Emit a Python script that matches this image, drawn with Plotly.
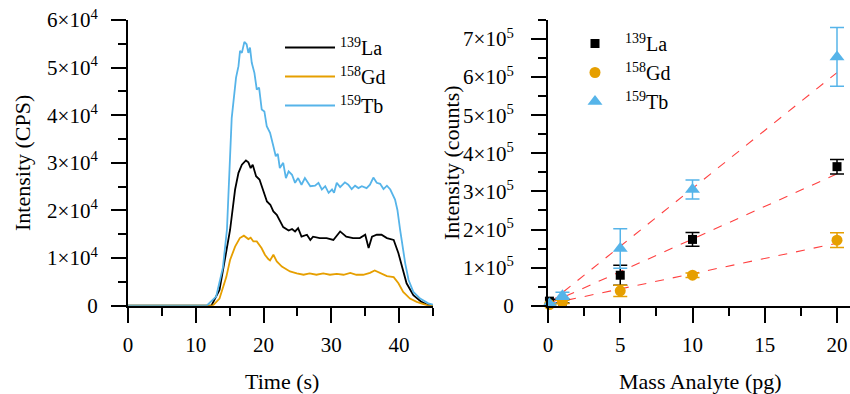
import plotly.graph_objects as go

# ---------------- Data: left panel (transient signal) ----------------
t_tb = [0, 11.6, 13.0, 14.0, 14.6, 15.06, 15.3, 15.94, 16.3, 16.53, 16.8, 17.17, 17.5, 17.76, 18.0, 18.26,
        18.65, 19.0, 19.34, 19.73, 20.12, 20.47, 20.96, 21.45, 21.8, 22.1, 22.4, 22.9, 23.3, 23.7,
        24.2, 24.65, 25.1, 25.6, 26.1, 26.9, 27.6, 28.1, 28.6, 29.1, 29.6, 30.1, 30.4, 30.8, 31.3,
        32.0, 32.5, 33.0, 33.5, 34.0, 34.5, 35.2, 35.7, 36.2, 36.7, 37.2, 37.7, 38.2, 38.7, 39.4,
        39.75, 40.15, 40.5, 40.9, 41.4, 42.1, 43.1, 44.3, 45.0]
i_tb = [0, 0, 1900, 8000, 16000, 30700, 39400, 47900, 50300, 53500, 53100, 55400, 54900, 53100, 54200, 51000,
        48900, 45400, 45800, 41200, 40800, 37700, 36300, 33500, 31400, 31900, 28900, 30000, 26800, 28200,
        27500, 25800, 26800, 25400, 26800, 25100, 25200, 25800, 24400, 25100, 23700, 24400, 23700, 25800, 24900,
        25900, 25400, 24500, 25200, 24700, 25100, 24700, 25400, 26900, 25800, 25600, 24500, 25200, 24400, 22300,
        20100, 15900, 12500, 8900, 5400, 2900, 1500, 500, 200]

t_la = [0, 12.3, 13.5, 14.5, 15.06, 15.8, 16.3, 16.8, 17.4, 17.76, 18.1, 18.4, 18.9, 19.4, 19.7, 20.0,
        20.5, 21.0, 21.45, 21.95, 22.4, 22.9, 23.7, 24.2, 24.65, 25.1, 25.6, 26.4, 26.9, 27.3, 28.3,
        29.3, 30.3, 31.3, 32.2, 33.2, 34.2, 35.0, 35.5, 36.0, 36.7, 37.4, 38.2, 39.2, 39.9, 40.4,
        41.1, 42.1, 43.3, 44.3, 45.0]
i_la = [0, 0, 3300, 11000, 15900, 24400, 27900, 29600, 30500, 30100, 28900, 29600, 27200, 26500, 25100, 23700,
        21900, 21200, 19800, 19100, 17700, 16500, 15800, 16100, 15600, 16300, 14500, 14900, 13800, 14500, 14200,
        14200, 13800, 15600, 14500, 14200, 14200, 14900, 12100, 14500, 14900, 14900, 14200, 13800, 11000, 8200,
        4700, 2200, 800, 100, 0]

t_gd = [0, 12.5, 13.5, 14.5, 15.06, 15.8, 16.5, 17.1, 17.76, 18.1, 18.5, 19.0, 19.7, 20.2, 20.7, 20.96,
        21.45, 21.95, 22.7, 23.9, 24.9, 25.9, 26.8, 27.8, 28.8, 29.8, 30.8, 31.8, 32.8, 33.7, 34.7,
        35.7, 36.4, 37.2, 38.2, 39.2, 39.9, 40.6, 41.6, 42.6, 43.6, 44.3, 45.0]
i_gd = [0, 0, 1500, 6000, 9600, 12400, 14200, 14700, 14000, 14300, 13500, 13500, 12100, 10700, 9800, 9500,
        10700, 9300, 8200, 7200, 6800, 6500, 6800, 6500, 6800, 6500, 6700, 6500, 6900, 6500, 6500,
        6900, 7400, 6900, 6200, 6000, 4700, 2900, 1500, 800, 350, 0, 0]

# ---------------- Data: right panel (calibration) ----------------
mass = [0.1, 1, 5, 10, 20]
la_val = [12000, 12000, 80000, 174000, 365000]
la_err = [4000, 5000, 26000, 18000, 19000]
gd_val = [3000, 10000, 39000, 80000, 172000]
gd_err = [2000, 4000, 15000, 6000, 19500]
tb_val = [5000, 26000, 150000, 305000, 653000]
tb_err = [3000, 9000, 52000, 25000, 77000]

# linear-fit parameters (slope per pg, intercept)
fit_la = (17100, 4000)
fit_gd = (8000, 4000)
fit_tb = (30400, 4000)
fit_x = [0.1, 20]

labels = ["<sup>139</sup>La", "<sup>158</sup>Gd", "<sup>159</sup>Tb"]
colors = ["#000000", "#E69F00", "#56B4E9"]

left_yticks = [0, 10000, 20000, 30000, 40000, 50000, 60000]
left_yticktext = ["0"] + [f"{k}×10<sup>4</sup>" for k in range(1, 7)]
right_yticks = [0, 100000, 200000, 300000, 400000, 500000, 600000, 700000]
right_yticktext = ["0"] + [f"{k}×10<sup>5</sup>" for k in range(1, 8)]

W, H = 850, 394
FONT = "Liberation Serif"

def px_x(p):
    return p / W

def px_y(p):
    return 1 - p / H

fig = go.Figure()

# left traces
for (tt, ii), lab, col in zip([(t_la, i_la), (t_gd, i_gd), (t_tb, i_tb)], labels, colors):
    fig.add_trace(go.Scatter(x=tt, y=ii, mode="lines", name=lab,
                             line=dict(color=col, width=1.8),
                             xaxis="x", yaxis="y", legend="legend"))

# right: fit lines
for (m, b) in [fit_la, fit_gd, fit_tb]:
    fig.add_trace(go.Scatter(x=fit_x, y=[m * x + b for x in fit_x], mode="lines",
                             line=dict(color="#FF4040", width=1.1, dash="dash"),
                             showlegend=False, xaxis="x2", yaxis="y2"))

symbols = ["square", "circle", "triangle-up"]
sizes = [9, 11, 13]
for vals, errs, lab, col, sym, sz in zip([la_val, gd_val, tb_val], [la_err, gd_err, tb_err],
                                         labels, colors, symbols, sizes):
    fig.add_trace(go.Scatter(x=mass, y=vals, mode="markers", name=lab,
                             marker=dict(color=col, symbol=sym, size=sz, line=dict(width=0)),
                             error_y=dict(type="data", array=errs, color=col, thickness=1.5, width=7),
                             xaxis="x2", yaxis="y2", legend="legend2", cliponaxis=False))

axis_common = dict(showline=True, linecolor="black", linewidth=2, ticks="outside", ticklen=15,
                   tickwidth=2, tickcolor="black", showgrid=False, zeroline=False, automargin=False,
                   tickfont=dict(family=FONT, size=21, color="black"), mirror=False)
minor_common = dict(ticks="outside", ticklen=8, tickwidth=2, tickcolor="black", showgrid=False)

fig.update_layout(
    template="none",
    width=W, height=H, margin=dict(l=0, r=0, t=0, b=0, autoexpand=False),
    paper_bgcolor="white", plot_bgcolor="white",
    font=dict(family=FONT, size=21, color="black"),
    xaxis=dict(domain=[px_x(128), px_x(433)], range=[0, 45], tickvals=[0, 10, 20, 30, 40],
               minor=dict(dtick=5, tick0=0, **minor_common),
               anchor="y", ticklabelstandoff=4, **axis_common),
    yaxis=dict(domain=[px_y(305.7), px_y(20)], range=[0, 60000], tickvals=left_yticks,
               ticktext=left_yticktext,
               minor=dict(dtick=5000, tick0=0, **minor_common),
               anchor="x", ticklabelstandoff=9, **axis_common),
    xaxis2=dict(domain=[px_x(548), 1.0], range=[0, 20.9], tickvals=[0, 5, 10, 15, 20],
                minor=dict(dtick=2.5, tick0=0, **minor_common),
                anchor="y2", ticklabelstandoff=4, **axis_common),
    yaxis2=dict(domain=[px_y(305.7), px_y(20)], range=[0, 750000], tickvals=right_yticks,
                ticktext=right_yticktext,
                minor=dict(dtick=50000, tick0=0, **minor_common),
                anchor="x2", ticklabelstandoff=13, **axis_common),
    legend=dict(x=px_x(280), y=px_y(28), xanchor="left", yanchor="top", bgcolor="rgba(0,0,0,0)",
                font=dict(family=FONT, size=20, color="black"), itemwidth=50, tracegroupgap=0),
    legend2=dict(x=px_x(565), y=px_y(24), xanchor="left", yanchor="top", bgcolor="rgba(0,0,0,0)",
                 font=dict(family=FONT, size=20, color="black"), itemwidth=50, tracegroupgap=0),
    showlegend=True,
)

ann_font = dict(family=FONT, size=22, color="black")
fig.add_annotation(text="Intensity (CPS)", x=px_x(22), y=px_y(163), xref="paper", yref="paper",
                   textangle=-90, showarrow=False, font=ann_font, xanchor="center", yanchor="middle")
fig.add_annotation(text="Time (s)", x=px_x(282), y=px_y(381), xref="paper", yref="paper",
                   showarrow=False, font=ann_font, xanchor="center", yanchor="middle")
fig.add_annotation(text="Intensity (counts)", x=px_x(451), y=px_y(163), xref="paper", yref="paper",
                   textangle=-90, showarrow=False, font=ann_font, xanchor="center", yanchor="middle")
fig.add_annotation(text="Mass Analyte (pg)", x=px_x(700), y=px_y(381), xref="paper", yref="paper",
                   showarrow=False, font=ann_font, xanchor="center", yanchor="middle")

fig.write_html("out.html", config={"displayModeBar": False},
               post_script="document.body.style.margin='0px';")
